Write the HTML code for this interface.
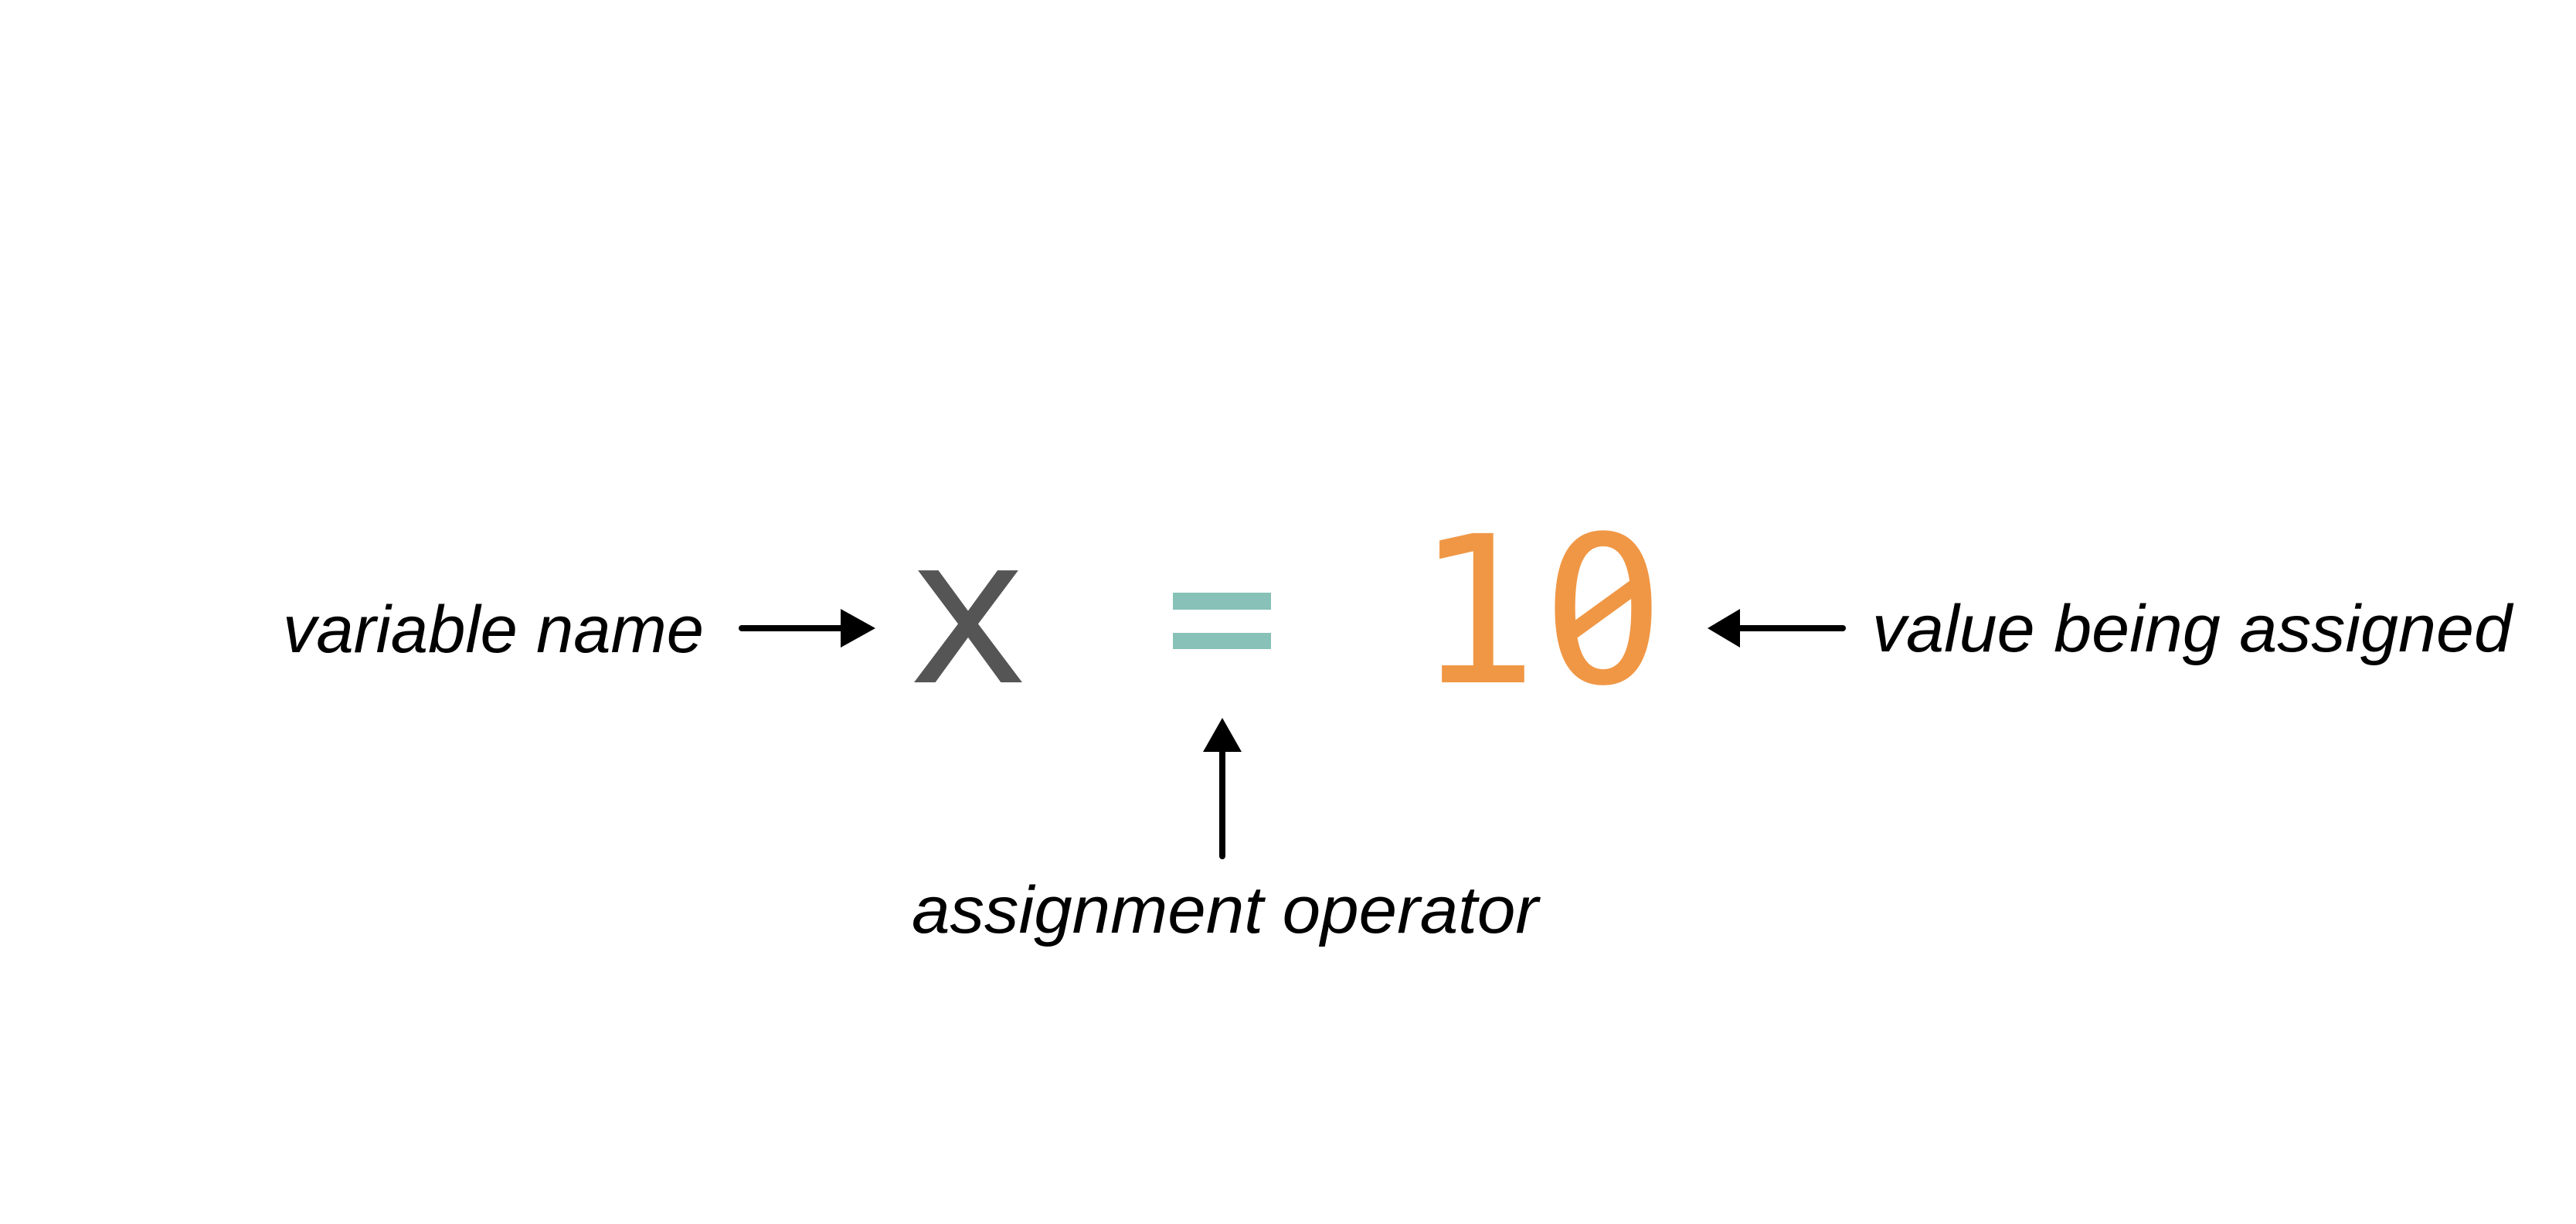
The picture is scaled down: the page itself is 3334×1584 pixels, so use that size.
<!DOCTYPE html>
<html><head><meta charset="utf-8"><style>
html,body{margin:0;padding:0;background:#fff;}
svg{display:block}
.lbl{font-family:"Liberation Sans",Arial,sans-serif;font-style:italic;font-size:86px;fill:#000}
.code{font-family:"DejaVu Sans Mono","Liberation Mono",monospace;font-size:265px}
</style></head><body>
<svg width="3334" height="1584" viewBox="0 0 3334 1584">
<rect width="3334" height="1584" fill="#fff"/>
<text class="code" x="1253" y="883" text-anchor="middle" fill="#555555">x</text>
<g>
<rect x="1518" y="767" width="127" height="22" fill="#87c1b8"/>
<rect x="1518" y="819" width="127" height="21" fill="#87c1b8"/>
</g>
<text class="code" x="1911" y="883" text-anchor="middle" fill="#f09745">1</text>
<text class="code" x="2075" y="883" text-anchor="middle" fill="#f09745">0</text>
<g>
<circle cx="2075" cy="789" r="24" fill="#fff"/>
<line x1="2036" y1="817" x2="2116" y2="759" stroke="#f09745" stroke-width="20"/>
</g>
<text class="lbl" x="366" y="844" textLength="545" lengthAdjust="spacingAndGlyphs">variable name</text>
<g>
<line x1="960" y1="813" x2="1095" y2="813" stroke="#000" stroke-width="8" stroke-linecap="round"/>
<polygon points="1088,788 1133,813 1088,838" fill="#000"/>
</g>
<g>
<line x1="2245" y1="813" x2="2385" y2="813" stroke="#000" stroke-width="8" stroke-linecap="round"/>
<polygon points="2252,788 2210,813 2252,838" fill="#000"/>
</g>
<text class="lbl" x="2423" y="843" textLength="828" lengthAdjust="spacingAndGlyphs">value being assigned</text>
<g>
<line x1="1582" y1="970" x2="1582" y2="1108" stroke="#000" stroke-width="8" stroke-linecap="round"/>
<polygon points="1557,973 1582,929 1607,973" fill="#000"/>
</g>
<text class="lbl" x="1180" y="1207" textLength="811" lengthAdjust="spacingAndGlyphs">assignment operator</text>
</svg>
</body></html>
